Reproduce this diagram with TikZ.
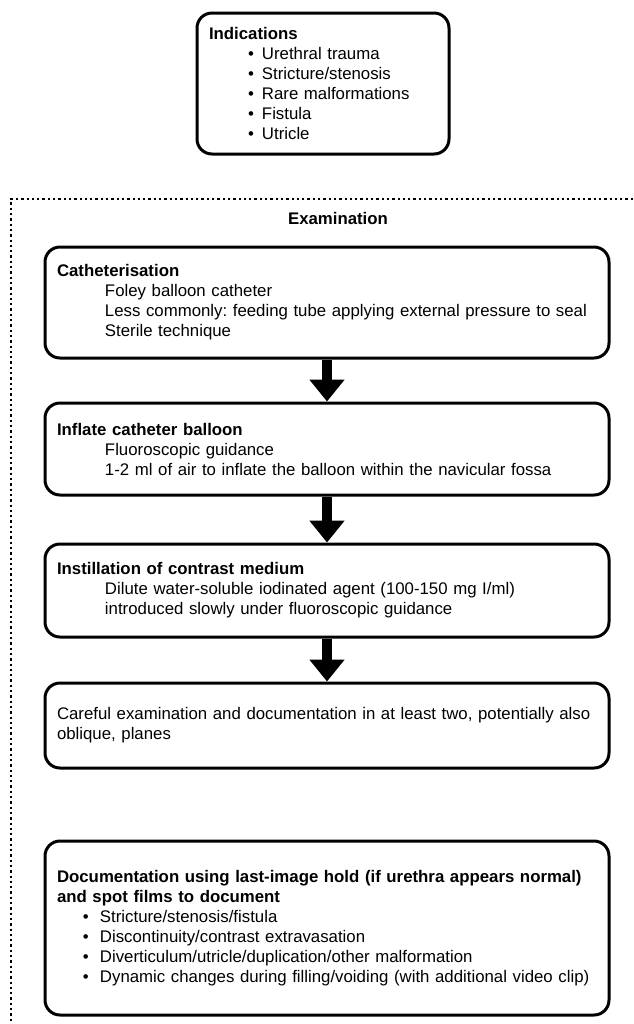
\documentclass[tikz,border=0pt]{standalone}
\usepackage{fontspec}
\setmainfont{Liberation Sans}
\usetikzlibrary{arrows.meta}
\frenchspacing

\newcommand{\blt}[3]{\hspace*{#1}\makebox[#2][l]{\textbullet}#3}
\newcommand{\ind}{\hspace*{24pt}}

\begin{document}
\begin{tikzpicture}[x=0.5pt,y=-0.5pt,
stepbox/.style={draw,rectangle,rounded corners=7.5pt,line width=1.5pt,inner xsep=6pt,inner ysep=0pt,text width=270pt,align=left,font=\fontsize{8.4}{10}\selectfont},
indbox/.style={stepbox,text width=114pt},
flowarrow/.style={line width=5pt,-{Triangle[width=17pt,length=11pt]}},
frame/.style={line width=1.15pt,dash pattern=on 1.15pt off 1.5pt}]

\useasboundingbox (0,0) rectangle (633,1024);

\draw (323,83.5) node[indbox,minimum height=70.5pt] (IND) {\textbf{Indications}\\
\blt{19.5pt}{7pt}{Urethral trauma}\\
\blt{19.5pt}{7pt}{Stricture/stenosis}\\
\blt{19.5pt}{7pt}{Rare malformations}\\
\blt{19.5pt}{7pt}{Fistula}\\
\blt{19.5pt}{7pt}{Utricle}};

% examination frame
\draw[frame] (633,199) -- (11,199) -- (11,1024);
\draw (338,224) node[anchor=base,font=\fontsize{8.4}{10}\selectfont\bfseries] (EXA) {Examination};

\draw (327,302.5) node[stepbox,minimum height=55.5pt] (CAT) {\textbf{Catheterisation}\\
\ind Foley balloon catheter\\
\ind Less commonly: feeding tube applying external pressure to seal\\
\ind Sterile technique};

\draw (327,449) node[stepbox,minimum height=46pt] (INF) {\textbf{Inflate catheter balloon}\\
\ind Fluoroscopic guidance\\
\ind 1-2 ml of air to inflate the balloon within the navicular fossa};

\draw (327,590.5) node[stepbox,minimum height=46.5pt] (INS) {\textbf{Instillation of contrast medium}\\
\ind Dilute water-soluble iodinated agent (100-150 mg I/ml)\\
\ind introduced slowly under fluoroscopic guidance};

\draw (327,725.5) node[stepbox,minimum height=42.5pt] (CAR) {Careful examination and documentation in at least two, potentially also oblique, planes};

\draw (327,928) node[stepbox,minimum height=87pt] (DOC) {\textbf{Documentation using last-image hold (if urethra appears normal) and spot films to document}\\
\blt{13pt}{8.5pt}{Stricture/stenosis/fistula}\\
\blt{13pt}{8.5pt}{Discontinuity/contrast extravasation}\\
\blt{13pt}{8.5pt}{Diverticulum/utricle/duplication/other malformation}\\
\blt{13pt}{8.5pt}{Dynamic changes during filling/voiding (with additional video clip)}};

\draw[flowarrow] (CAT) -- (INF);
\draw[flowarrow] (INF) -- (INS);
\draw[flowarrow] (INS) -- (CAR);

\end{tikzpicture}
\end{document}
